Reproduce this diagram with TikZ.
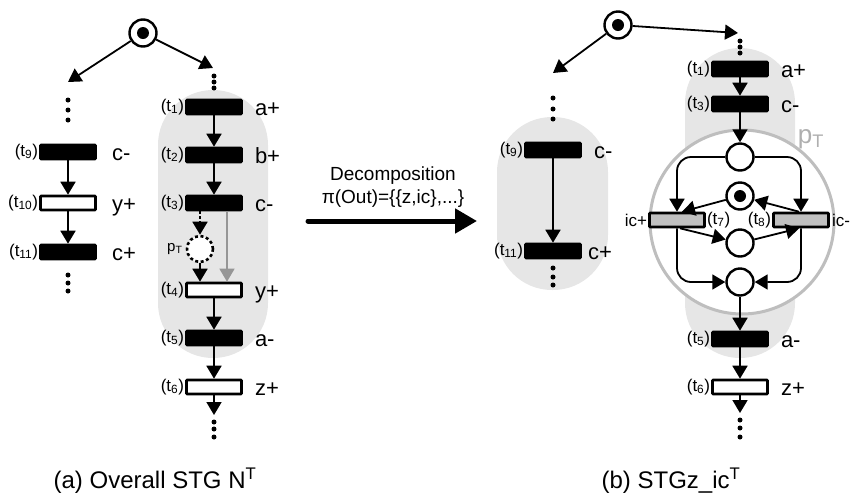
\documentclass[tikz,border=0pt]{standalone}
\usepackage{fontspec}
\setmainfont{Liberation Sans}
\usetikzlibrary{arrows.meta}

\definecolor{zonegray}{RGB}{230,230,230}
\definecolor{ringgray}{RGB}{190,190,190}
\definecolor{ptgray}{RGB}{175,175,175}
\definecolor{trgray}{RGB}{192,192,192}
\definecolor{arcgray}{RGB}{150,150,150}

\newcommand\tlab[1]{(t\textsubscript{#1})}

\tikzset{
  trb/.style={draw=black, line width=2.6pt, fill=black, minimum width=55pt,
              minimum height=14pt, inner sep=0pt, rounded corners=0.8pt},
  trw/.style={trb, fill=white},
  trg/.style={trb, fill=trgray},
  pl/.style={circle, draw=black, line width=2.4pt, minimum size=27pt,
             inner sep=0pt, fill=white},
  tok/.style={circle, fill=black, minimum size=12pt, inner sep=0pt},
  arc/.style={line width=1.8pt, -{Triangle[length=13pt,width=15pt]}},
  dotn/.style={circle, fill=black, minimum size=5pt, inner sep=0pt},
  lab/.style={font=\fontsize{17}{17}\selectfont, inner sep=0pt, anchor=east},
  sig/.style={font=\fontsize{22}{22}\selectfont, inner sep=0pt, anchor=base west},
  zone/.style={fill=zonegray, rounded corners=54.9pt},
}

\begin{document}
\begin{tikzpicture}[x=1pt,y=-1pt]
\useasboundingbox (0,0) rectangle (855,499);

% shaded regions
\fill[zone] (158,90) rectangle (268,358);
\fill[zone] (497,117) rectangle (608,290);
\fill[zone] (685,48) rectangle (795,358);
\node[circle, draw=ringgray, line width=3pt, fill=white, minimum size=184pt,
      inner sep=0pt] (ring) at (742,222) {};
\node[text=ptgray, font=\fontsize{26}{26}\selectfont, inner sep=0pt]
      (ringlab) at (811,139) {p\textsubscript{T}};

% ---------------- (a) overall STG ----------------
\node[pl] (A0) at (143,33) {};
\node[tok] (A0t) at (A0) {};
\coordinate (ea1) at (68,82);
\coordinate (ea2) at (213,68);
\draw[arc] (A0) -- (ea1);
\draw[arc] (A0) -- (ea2);

\foreach \k/\y in {1/100,2/110,3/120} \node[dotn] (dl\k) at (68,\y) {};
\node[trb] (t9)  at (68,152) {};
\node[trw] (t10) at (68,203) {};
\node[trb] (t11) at (68,252) {};
\foreach \k/\y in {1/275,2/283,3/291} \node[dotn] (dm\k) at (68,\y) {};
\draw[arc] (t9) -- (t10);
\draw[arc] (t10) -- (t11);
\node[lab] (lt9)  at ([xshift=-1pt]t9.west)  {\tlab{9}};
\node[lab] (lt10) at ([xshift=-1pt]t10.west) {\tlab{10}};
\node[lab] (lt11) at ([xshift=-1pt]t11.west) {\tlab{11}};
\node[sig] (st9)  at ([xshift=15pt,yshift=-8pt]t9.east)  {c-};
\node[sig] (st10) at ([xshift=15pt,yshift=-8pt]t10.east) {y+};
\node[sig] (st11) at ([xshift=15pt,yshift=-8pt]t11.east) {c+};

\foreach \k/\y in {1/76,2/82,3/88} \node[dotn] (dr\k) at (214,\y) {};
\node[trb] (t1) at (214,107) {};
\node[trb] (t2) at (214,155) {};
\node[trb] (t3) at (214,203) {};
\node[circle, draw=black, line width=2.6pt, dash pattern=on 3pt off 2.6pt,
      minimum size=26pt, inner sep=0pt, fill=white] (pT) at (200,249) {};
\node[trw] (t4) at (214,290) {};
\node[trb] (t5) at (214,338) {};
\node[trw] (t6) at (214,387) {};
\coordinate (e6) at (214,415);
\foreach \k/\y in {1/422,2/429,3/437} \node[dotn] (dz\k) at (214,\y) {};

\draw[arc] (t1) -- (t2);
\draw[arc] (t2) -- (t3);
\draw[arc, densely dashed] ([xshift=-14pt]t3.south) -- (pT.north);
\draw[arc] (pT.south) -- ([xshift=-14pt]t4.north);
\draw[arc, draw=arcgray, fill=arcgray, line width=1.3pt]
      ([xshift=13pt]t3.south) -- ([xshift=13pt]t4.north);
\draw[arc] (t4) -- (t5);
\draw[arc] (t5) -- (t6);
\draw[arc] (t6) -- (e6);

\node[lab] (lt1) at ([xshift=-1pt]t1.west) {\tlab{1}};
\node[lab] (lt2) at ([xshift=-1pt]t2.west) {\tlab{2}};
\node[lab] (lt3) at ([xshift=-1pt]t3.west) {\tlab{3}};
\node[lab] (lt4) at ([xshift=-1pt]t4.west) {\tlab{4}};
\node[lab] (lt5) at ([xshift=-1pt]t5.west) {\tlab{5}};
\node[lab] (lt6) at ([xshift=-1pt]t6.west) {\tlab{6}};
\node[sig] (st1) at ([xshift=12pt,yshift=-8pt]t1.east) {a+};
\node[sig] (st2) at ([xshift=12pt,yshift=-8pt]t2.east) {b+};
\node[sig] (st3) at ([xshift=12pt,yshift=-8pt]t3.east) {c-};
\node[sig] (st4) at ([xshift=12pt,yshift=-8pt]t4.east) {y+};
\node[sig] (st5) at ([xshift=12pt,yshift=-8pt]t5.east) {a-};
\node[sig] (st6) at ([xshift=12pt,yshift=-8pt]t6.east) {z+};
\node[font=\fontsize{15}{15}\selectfont, inner sep=0pt, anchor=east]
      (lpT) at ([xshift=-3pt]pT.west) {p\textsubscript{T}};

\node[font=\fontsize{24}{24}\selectfont, inner sep=0pt] (capa) at (155,481)
      {(a) Overall STG N\textsuperscript{T}};

% ---------------- decomposition step ----------------
\node[font=\fontsize{19}{23}\selectfont, align=center, inner sep=0pt] (dec)
      at (393,187) {Decomposition\\π(Out)=\{\{z,ic\},...\}};
\coordinate (bs) at (308,221);
\coordinate (be) at (477,221);
\draw[line width=5pt, line cap=round, -{Triangle[length=22pt,width=24pt]}] (bs) -- (be);

% ---------------- (b) component STG ----------------
\node[pl] (B0) at (618,25) {};
\node[tok] (B0t) at (B0) {};
\coordinate (eb1) at (553,73);
\coordinate (eb2) at (738,33);
\draw[arc] (B0) -- (eb1);
\draw[arc] (B0) -- (eb2);

\foreach \k/\y in {1/98,2/109,3/119} \node[dotn] (bl\k) at (553,\y) {};
\node[trb] (u9)  at (553,150) {};
\node[trb] (u11) at (553,251) {};
\foreach \k/\y in {1/268,2/277,3/285} \node[dotn] (bm\k) at (553,\y) {};
\draw[arc] (u9) -- (u11);
\node[lab] (lu9)  at ([xshift=-1pt]u9.west)  {\tlab{9}};
\node[lab] (lu11) at ([xshift=-1pt]u11.west) {\tlab{11}};
\node[sig] (su9)  at ([xshift=12pt,yshift=-8pt]u9.east)  {c-};
\node[sig] (su11) at ([xshift=6pt,yshift=-8pt]u11.east)  {c+};

\foreach \k/\y in {1/41,2/47,3/53} \node[dotn] (br\k) at (740,\y) {};
\node[trb] (u1) at (740,69) {};
\node[trb] (u3) at (740,104) {};
\node[pl] (P1) at (740,157) {};
\node[pl] (P2) at (740,196) {};
\node[tok] (P2t) at (P2) {};
\node[pl] (P3) at (740,243) {};
\node[pl] (P4) at (740,282) {};
\node[trg] (u7) at (677,220) {};
\node[trg] (u8) at (801,220) {};
\node[trb] (u5) at (740,339) {};
\node[trw] (u6) at (740,387) {};
\coordinate (eu6) at (740,413);
\foreach \k/\y in {1/420,2/428,3/437} \node[dotn] (bz\k) at (740,\y) {};

\draw[arc] (u1) -- (u3);
\draw[arc] (u3) -- (P1);
\draw[arc, rounded corners=14pt] (P1.west) -| (u7.north);
\draw[arc, rounded corners=14pt] (P1.east) -| (u8.north);
\draw[arc, rounded corners=14pt] (u7.south) |- (P4.west);
\draw[arc, rounded corners=14pt] (u8.south) |- (P4.east);
\draw[arc] (P2) -- ([xshift=5pt]u7.north);
\draw[arc] ([xshift=-2pt]u8.north) -- (P2);
\draw[arc] ([xshift=3pt]u7.south) -- (P3);
\draw[arc] (P3) -- ([xshift=-2pt]u8.south);
\draw[arc] (P4) -- (u5);
\draw[arc] (u5) -- (u6);
\draw[arc] (u6) -- (eu6);

\node[lab] (lu1) at ([xshift=-1pt]u1.west) {\tlab{1}};
\node[lab] (lu3) at ([xshift=-1pt]u3.west) {\tlab{3}};
\node[lab] (lu5) at ([xshift=-1pt]u5.west) {\tlab{5}};
\node[lab] (lu6) at ([xshift=-1pt]u6.west) {\tlab{6}};
\node[sig] (su1) at ([xshift=12pt,yshift=-8pt]u1.east) {a+};
\node[sig] (su3) at ([xshift=12pt,yshift=-8pt]u3.east) {c-};
\node[sig] (su5) at ([xshift=12pt,yshift=-8pt]u5.east) {a-};
\node[sig] (su6) at ([xshift=12pt,yshift=-8pt]u6.east) {z+};
\node[lab, anchor=west] (lu7) at ([xshift=1pt]u7.east) {\tlab{7}};
\node[lab] (lu8) at ([xshift=-1pt]u8.west) {\tlab{8}};
\node[lab] (su7) at ([xshift=-1pt]u7.west) {ic+};
\node[lab, anchor=west] (su8) at ([xshift=2pt]u8.east) {ic-};

\node[font=\fontsize{24}{24}\selectfont, inner sep=0pt] (capb) at (671,481)
      {(b) STGz\_ic\textsuperscript{T}};
\end{tikzpicture}
\end{document}
